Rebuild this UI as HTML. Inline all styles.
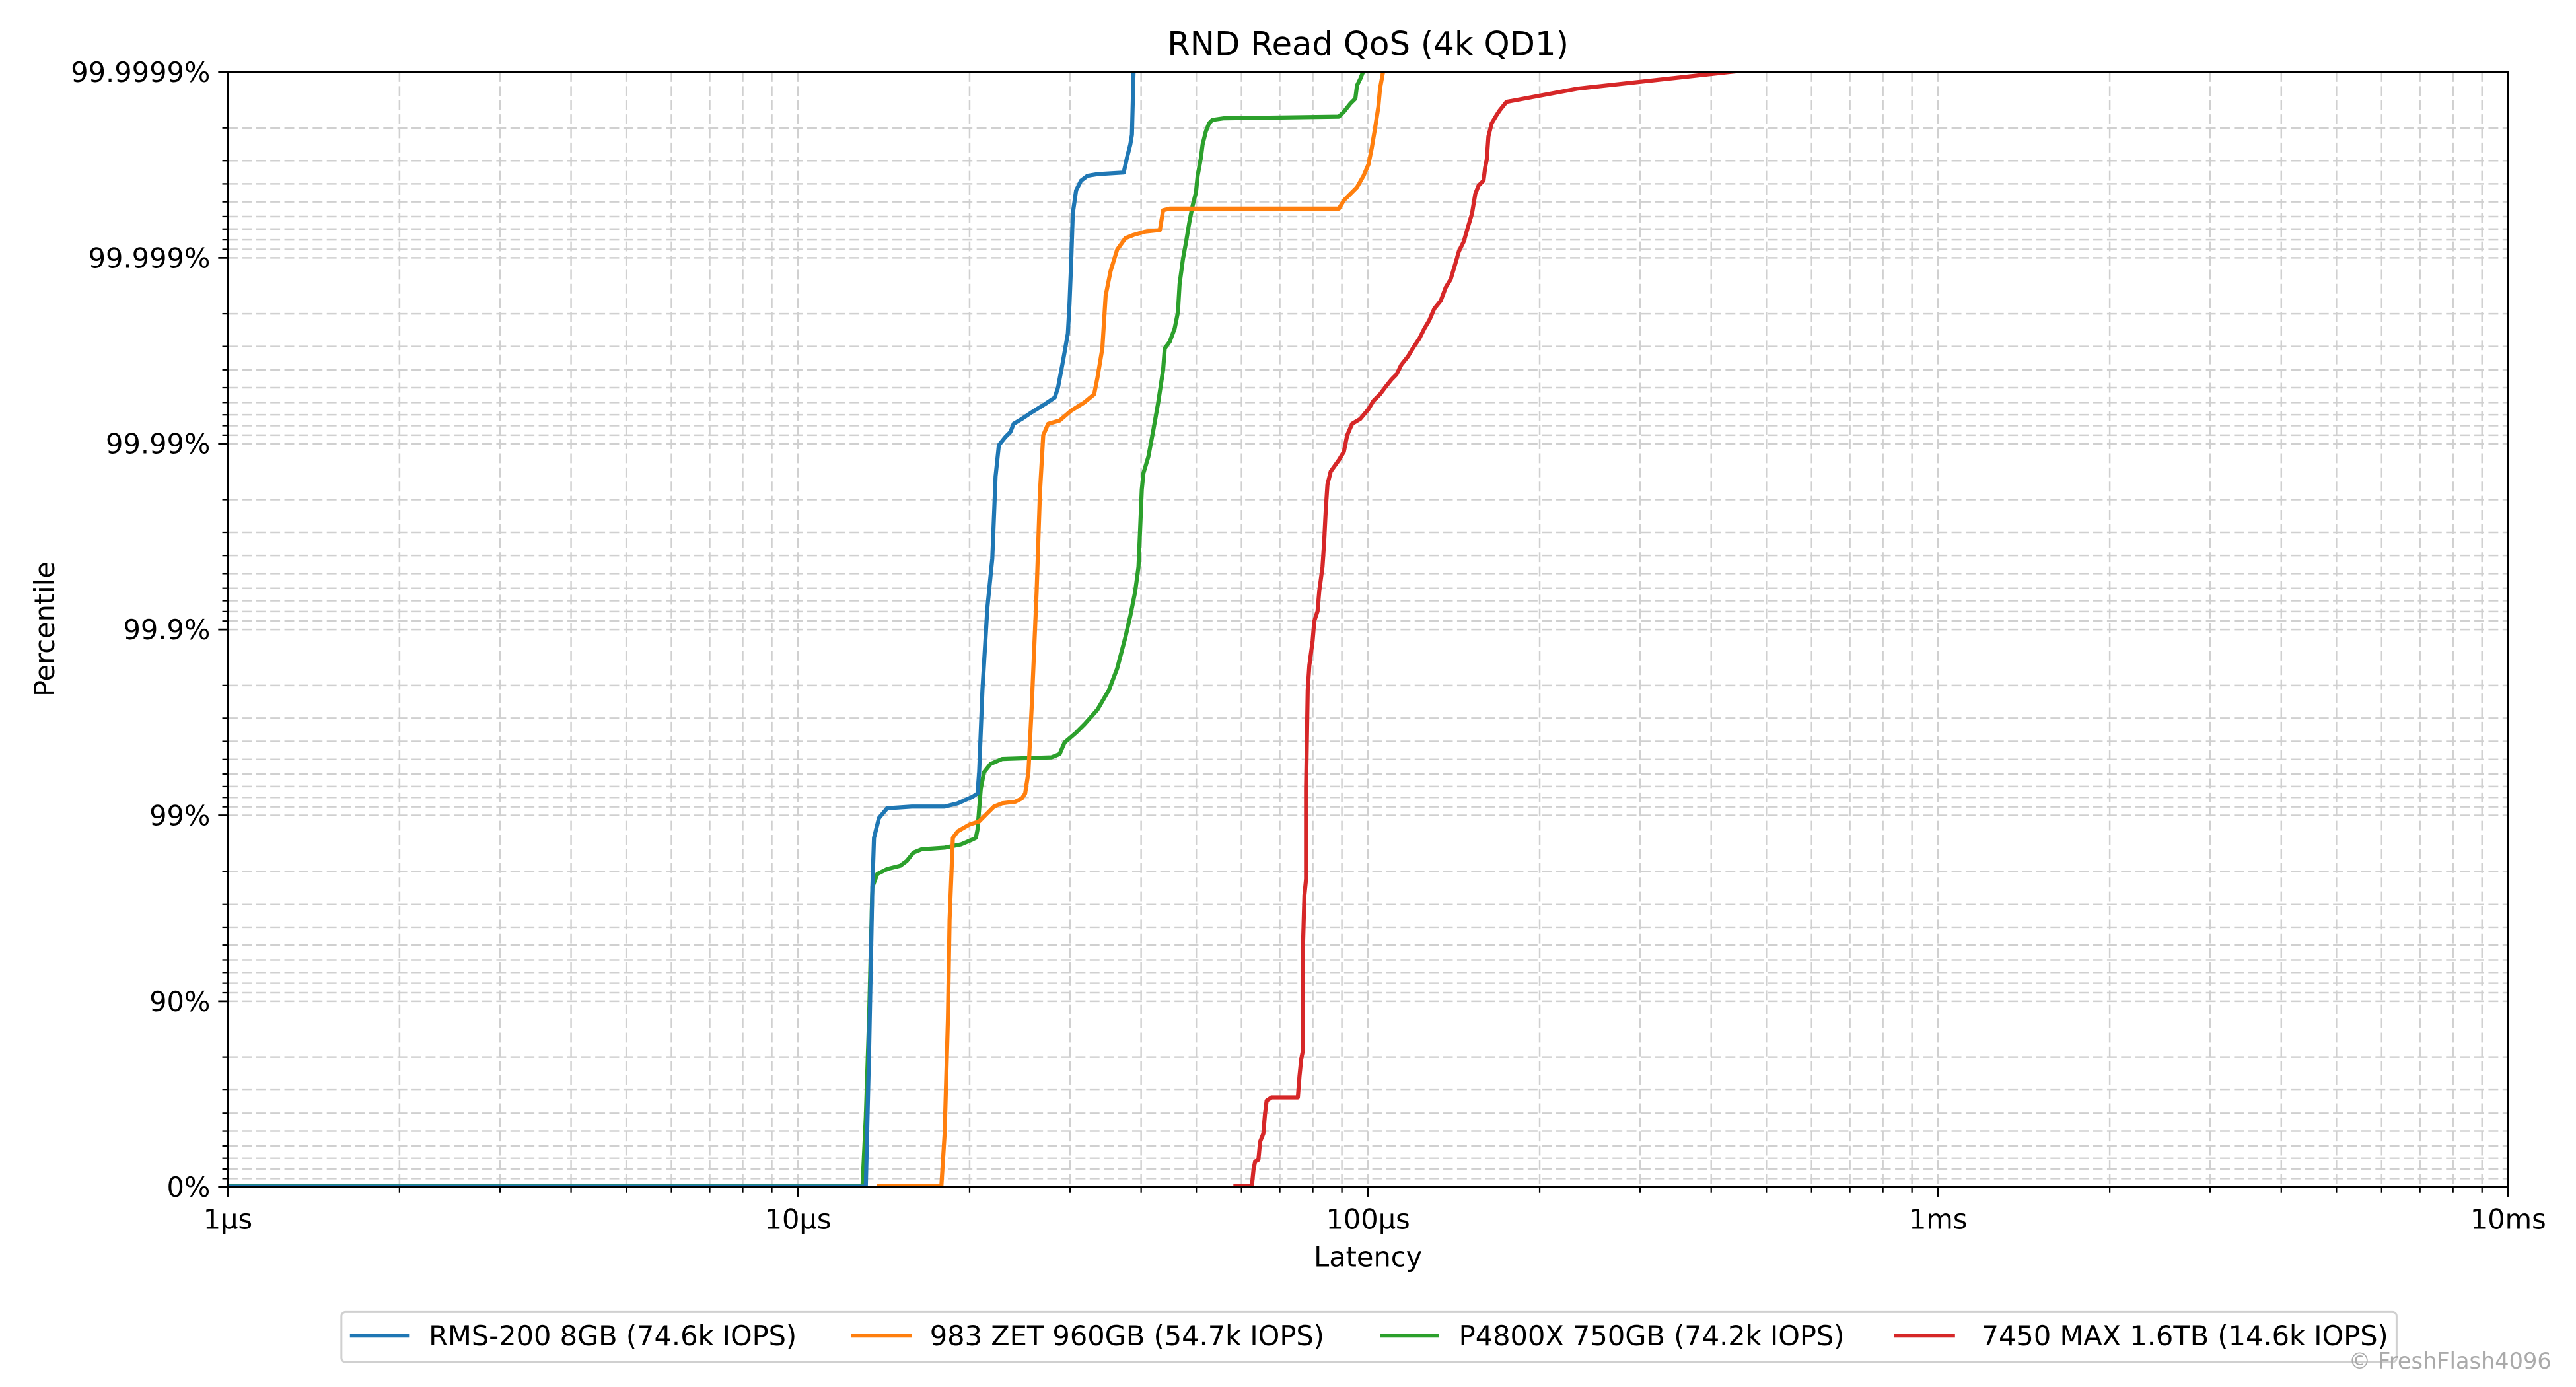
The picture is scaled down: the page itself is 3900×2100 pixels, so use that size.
<!DOCTYPE html>
<html><head><meta charset="utf-8"><style>
html,body{margin:0;padding:0;background:#fff;}
svg{display:block;}
text{font-family:"DejaVu Sans","Liberation Sans",sans-serif;fill:#000;}
</style></head><body>
<svg width="3900" height="2100" viewBox="0 0 1568 844.3" xmlns="http://www.w3.org/2000/svg">
<defs>
<clipPath id="ax"><rect x="138.7" y="43.8" width="1388" height="678.8"/></clipPath>
<g id="vdec">
 <g stroke="#d0d0d0" stroke-width="1" stroke-dasharray="6 2.6">
  <line x1="0" y1="43.8" x2="0" y2="722.6"/>
  <line x1="104.5" y1="43.8" x2="104.5" y2="722.6"/>
  <line x1="165.6" y1="43.8" x2="165.6" y2="722.6"/>
  <line x1="208.9" y1="43.8" x2="208.9" y2="722.6"/>
  <line x1="242.5" y1="43.8" x2="242.5" y2="722.6"/>
  <line x1="270" y1="43.8" x2="270" y2="722.6"/>
  <line x1="293.3" y1="43.8" x2="293.3" y2="722.6"/>
  <line x1="313.4" y1="43.8" x2="313.4" y2="722.6"/>
  <line x1="331.1" y1="43.8" x2="331.1" y2="722.6"/>
 </g>
 <g stroke="#000" stroke-width="0.9">
  <line x1="0" y1="722.6" x2="0" y2="728.5" stroke-width="1.1"/>
  <line x1="104.5" y1="722.6" x2="104.5" y2="726"/>
  <line x1="165.6" y1="722.6" x2="165.6" y2="726"/>
  <line x1="208.9" y1="722.6" x2="208.9" y2="726"/>
  <line x1="242.5" y1="722.6" x2="242.5" y2="726"/>
  <line x1="270" y1="722.6" x2="270" y2="726"/>
  <line x1="293.3" y1="722.6" x2="293.3" y2="726"/>
  <line x1="313.4" y1="722.6" x2="313.4" y2="726"/>
  <line x1="331.1" y1="722.6" x2="331.1" y2="726"/>
 </g>
</g>
<g id="hdec">
 <g stroke="#d0d0d0" stroke-width="1" stroke-dasharray="6 2.6">
  <line x1="138.7" y1="0" x2="1526.7" y2="0"/>
  <line x1="138.7" y1="-79.07" x2="1526.7" y2="-79.07"/>
  <line x1="138.7" y1="-59.16" x2="1526.7" y2="-59.16"/>
  <line x1="138.7" y1="-45.02" x2="1526.7" y2="-45.02"/>
  <line x1="138.7" y1="-34.07" x2="1526.7" y2="-34.07"/>
  <line x1="138.7" y1="-25.1" x2="1526.7" y2="-25.1"/>
  <line x1="138.7" y1="-17.53" x2="1526.7" y2="-17.53"/>
  <line x1="138.7" y1="-10.96" x2="1526.7" y2="-10.96"/>
  <line x1="138.7" y1="-5.18" x2="1526.7" y2="-5.18"/>
 </g>
 <g stroke="#000" stroke-width="0.9">
  <line x1="132.8" y1="0" x2="138.7" y2="0" stroke-width="1.1"/>
  <line x1="135.3" y1="-79.07" x2="138.7" y2="-79.07"/>
  <line x1="135.3" y1="-59.16" x2="138.7" y2="-59.16"/>
  <line x1="135.3" y1="-45.02" x2="138.7" y2="-45.02"/>
  <line x1="135.3" y1="-34.07" x2="138.7" y2="-34.07"/>
  <line x1="135.3" y1="-25.1" x2="138.7" y2="-25.1"/>
  <line x1="135.3" y1="-17.53" x2="138.7" y2="-17.53"/>
  <line x1="135.3" y1="-10.96" x2="138.7" y2="-10.96"/>
  <line x1="135.3" y1="-5.18" x2="138.7" y2="-5.18"/>
 </g>
</g>
</defs>

<use href="#vdec" x="138.7"/>
<use href="#vdec" x="485.7"/>
<use href="#vdec" x="832.7"/>
<use href="#vdec" x="1179.7"/>
<line x1="1526.7" y1="722.6" x2="1526.7" y2="728.5" stroke="#000" stroke-width="1.1"/>

<use href="#hdec" y="722.6"/>
<use href="#hdec" y="609.47"/>
<use href="#hdec" y="496.34"/>
<use href="#hdec" y="383.21"/>
<use href="#hdec" y="270.08"/>
<use href="#hdec" y="156.95"/>
<line x1="132.8" y1="43.8" x2="138.7" y2="43.8" stroke="#000" stroke-width="1.1"/>

<g clip-path="url(#ax)" fill="none" stroke-width="2.5" stroke-linejoin="round" stroke-linecap="square">
<path stroke="#d62728" d="M752,722 L762,722 L763,712 L764,707 L766,706 L767,695 L769,690 L770,678 L771,670 L774,668 L790,668 L791,655 L792,645 L793,640 L793,580 L794,545 L795,535 L795,480 L796,420 L797,405 L799,390 L800,378 L802,372 L803,360 L805,345 L806,330 L807,310 L808,295 L810,287 L815,280 L818,275 L820,265 L823,258 L828,255 L833,249 L836,244 L840,240 L843,236 L847,231 L850,228 L853,222 L857,217 L860,212 L864,206 L867,200 L870,195 L873,188 L877,183 L880,175 L883,170 L886,160 L888,153 L891,147 L893,140 L896,130 L898,118 L900,113 L903,110 L904,102 L905,97 L906,83 L908,75 L911,70 L913,67 L917,62 L960,54 L1060,43"/>
<path stroke="#2ca02c" d="M138,722 L525,722 L527,680 L529,620 L531,540 L534,532 L540,529 L548,527 L552,524 L556,519 L561,517 L575,516 L585,514 L592,511 L594,510 L595,505 L597,480 L599,470 L603,465 L610,462 L640,461 L645,459 L648,452 L655,446 L660,441 L668,432 L675,420 L680,407 L685,388 L688,375 L691,360 L693,345 L694,322 L695,298 L696,288 L699,278 L702,262 L705,245 L708,225 L709,212 L712,208 L715,200 L717,190 L718,173 L720,158 L722,147 L724,135 L726,125 L728,117 L729,107 L731,96 L732,88 L734,80 L736,75 L738,73 L745,72 L815,71 L818,68 L822,63 L825,60 L826,52 L828,48 L830,43"/>
<path stroke="#ff7f0e" d="M535,722 L573,722 L575,690 L577,620 L578,560 L580,510 L583,506 L590,502 L596,500 L600,496 L605,491 L610,489 L618,488 L622,486 L624,483 L626,470 L628,430 L631,360 L633,300 L635,265 L638,258 L645,256 L652,250 L660,245 L666,240 L668,230 L671,212 L673,180 L676,165 L680,152 L685,145 L690,143 L697,141 L706,140 L708,128 L712,127 L815,127 L818,122 L822,118 L826,114 L830,107 L833,100 L835,90 L837,78 L839,65 L840,54 L842,43"/>
<path stroke="#1f77b4" d="M138,722.3 L527,722.3 L529,640 L531,540 L532,510 L535,498 L540,492 L555,491 L575,491 L583,489 L592,485 L595,483 L596,470 L598,420 L601,370 L604,340 L606,290 L608,271 L612,266 L615,263 L617,258 L622,255 L628,251 L636,246 L642,242 L644,236 L647,220 L650,203 L651,185 L652,160 L653,130 L655,116 L658,110 L662,107 L668,106 L684,105 L686,96 L688,88 L689,82 L690,43"/>
</g>

<rect x="138.7" y="43.8" width="1388" height="678.8" fill="none" stroke="#000" stroke-width="1.2"/>

<g font-size="16.7" text-anchor="end">
<text x="128" y="728.6">0%</text>
<text x="128" y="615.5">90%</text>
<text x="128" y="502.4">99%</text>
<text x="128" y="389.2">99.9%</text>
<text x="128" y="276.1">99.99%</text>
<text x="128" y="163">99.999%</text>
<text x="128" y="49.9">99.9999%</text>
</g>
<g font-size="16.7" text-anchor="middle">
<text x="138.7" y="748">1µs</text>
<text x="485.7" y="748">10µs</text>
<text x="832.7" y="748">100µs</text>
<text x="1179.7" y="748">1ms</text>
<text x="1526.7" y="748">10ms</text>
<text x="832.7" y="771">Latency</text>
<text x="832.7" y="33.5" font-size="20">RND Read QoS (4k QD1)</text>
<text transform="translate(33,383) rotate(-90)">Percentile</text>
</g>

<rect x="207.8" y="798.6" width="1251" height="30.5" rx="2.5" fill="#fff" stroke="#d0d0d0" stroke-width="1.2"/>
<g stroke-width="2.5">
<line x1="213" y1="813" x2="249" y2="813" stroke="#1f77b4"/>
<line x1="518" y1="813" x2="555" y2="813" stroke="#ff7f0e"/>
<line x1="840" y1="813" x2="876" y2="813" stroke="#2ca02c"/>
<line x1="1153" y1="813" x2="1190" y2="813" stroke="#d62728"/>
</g>
<g font-size="16.7">
<text x="261" y="819">RMS-200 8GB (74.6k IOPS)</text>
<text x="566" y="819">983 ZET 960GB (54.7k IOPS)</text>
<text x="888" y="819">P4800X 750GB (74.2k IOPS)</text>
<text x="1206" y="819">7450 MAX 1.6TB (14.6k IOPS)</text>
</g>
<text x="1553" y="833" font-size="13.5" text-anchor="end" style="fill:#aaaaaa">© FreshFlash4096</text>
</svg>
</body></html>
